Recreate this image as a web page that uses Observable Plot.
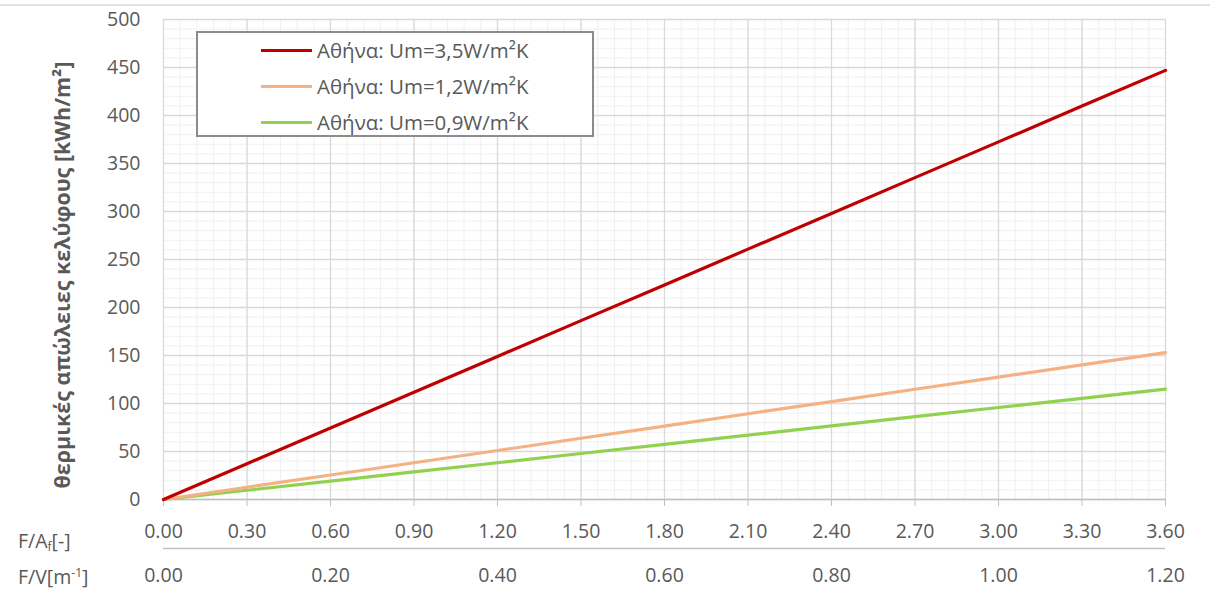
<!DOCTYPE html>
<html><head><meta charset="utf-8">
<script src="https://cdn.jsdelivr.net/npm/d3@7"></script>
<script src="https://cdn.jsdelivr.net/npm/@observablehq/plot@0.6"></script>
<style>
body{margin:0;background:#fff;font-family:"Open Sans",sans-serif;}
#wrap{position:relative;width:1210px;height:592px;overflow:hidden;background:#fff;}
#wrap svg{position:absolute;left:0;top:0;}
.topline{position:absolute;left:0;top:4px;width:1210px;height:0;border-top:2px solid #e3e3e3;}
.legend{position:absolute;left:196px;top:31px;width:394px;height:102px;border:2px solid #8c8c8c;background:#fff;box-sizing:content-box;}
.legend .row{position:absolute;left:63px;height:24px;display:flex;align-items:center;font-size:20.5px;color:#595959;white-space:nowrap;}
.legend .sw{width:51px;height:3px;margin-right:5px;}
.ylab{position:absolute;left:61px;top:275px;transform:translate(-50%,-50%) rotate(-90deg);font-size:21.5px;font-weight:bold;color:#595959;white-space:nowrap;}
.rowlab{position:absolute;left:18px;font-size:19.5px;color:#595959;white-space:nowrap;line-height:1;}
.rowlab sub{font-size:12px;vertical-align:-3px;line-height:0;}
.rowlab sup{font-size:12px;vertical-align:7px;line-height:0;}
</style></head><body><div id="wrap"></div>
<script>
// F/A_f [-] values
const faValues = [0.0, 0.3, 0.6, 0.9, 1.2, 1.5, 1.8, 2.1, 2.4, 2.7, 3.0, 3.3, 3.6];
// Αθήνα series (kWh/m²)
const athensUm35 = [0, 37.3, 74.5, 111.8, 149, 186.3, 223.5, 260.8, 298, 335.3, 372.5, 409.8, 447];
const athensUm12 = [0, 12.8, 25.5, 38.3, 51, 63.8, 76.5, 89.3, 102, 114.8, 127.5, 140.3, 153];
const athensUm09 = [0, 9.6, 19.2, 28.8, 38.3, 47.9, 57.5, 67.1, 76.7, 86.3, 95.8, 105.4, 115];
const seriesNames = ["Αθήνα: Um=3,5W/m²K", "Αθήνα: Um=1,2W/m²K", "Αθήνα: Um=0,9W/m²K"];
const seriesColors = ["#C00000", "#F4B183", "#92D050"];
// axis ticks
const xTicks = [0.0, 0.3, 0.6, 0.9, 1.2, 1.5, 1.8, 2.1, 2.4, 2.7, 3.0, 3.3, 3.6];
const yTicks = [0, 50, 100, 150, 200, 250, 300, 350, 400, 450, 500];
const fvTickPos = [0.0, 0.6, 1.2, 1.8, 2.4, 3.0, 3.6];
const fvTickLabels = ["0.00", "0.20", "0.40", "0.60", "0.80", "1.00", "1.20"];
const yLabel = "θερμικές απώλειες κελύφους  [kWh/m²]";

const seriesValues = [athensUm35, athensUm12, athensUm09];
const rows = [];
seriesValues.forEach((vals, s) => vals.forEach((v, i) => rows.push({x: faValues[i], y: v, s})));

const xMinor = d3.range(0, 3.6001, 0.06);
const yMinor = d3.range(0, 500.001, 10);
const font = "'Open Sans', sans-serif";

const chart = Plot.plot({
  width: 1210, height: 592,
  marginLeft: 163, marginRight: 45, marginTop: 19, marginBottom: 93,
  x: {domain: [0, 3.6]},
  y: {domain: [0, 500]},
  style: {fontFamily: font, fontSize: "19.5px", color: "#595959", background: "transparent", overflow: "visible"},
  marks: [
    Plot.ruleX(xMinor, {stroke: "#f0f0f0", strokeWidth: 1}),
    Plot.ruleY(yMinor, {stroke: "#f0f0f0", strokeWidth: 1}),
    Plot.ruleX(xTicks, {stroke: "#d9d9d9", strokeWidth: 1.3}),
    Plot.ruleY(yTicks, {stroke: "#d9d9d9", strokeWidth: 1.3}),
    Plot.axisX({ticks: xTicks, tickFormat: d => d.toFixed(2), tickSize: 7, tickPadding: 18,
      stroke: "#bfbfbf", fill: "#595959", label: null, fontSize: 19.5}),
    Plot.axisY({ticks: yTicks, tickSize: 0, tickPadding: 23, fill: "#595959", label: null, fontSize: 19.5}),
    Plot.ruleY([0], {stroke: "#bfbfbf", strokeWidth: 1.3}),
    Plot.ruleY([0], {dy: 49, stroke: "#bfbfbf", strokeWidth: 1.5}),
    Plot.text(fvTickPos, {x: d => d, text: (d, i) => fvTickLabels[i], frameAnchor: "bottom", dy: 82,
      fill: "#595959", fontSize: 19.5}),
    ...[2, 1, 0].map(s => Plot.line(rows.filter(r => r.s === s),
      {x: "x", y: "y", stroke: seriesColors[s], strokeWidth: 3.2}))
  ]
});

const wrap = document.getElementById("wrap");
wrap.appendChild(chart);

const topLine = document.createElement("div"); topLine.className = "topline"; wrap.appendChild(topLine);

const lg = document.createElement("div"); lg.className = "legend";
seriesNames.forEach((name, i) => {
  const r = document.createElement("div"); r.className = "row";
  r.style.top = (5 + i * 36) + "px";
  const sw = document.createElement("div"); sw.className = "sw"; sw.style.background = seriesColors[i];
  const t = document.createElement("span"); t.textContent = name;
  r.appendChild(sw); r.appendChild(t); lg.appendChild(r);
});
wrap.appendChild(lg);

const yl = document.createElement("div"); yl.className = "ylab"; yl.textContent = yLabel; wrap.appendChild(yl);

const r1 = document.createElement("div"); r1.className = "rowlab"; r1.style.top = "531px";
r1.innerHTML = "F/A<sub>f</sub>[-]"; wrap.appendChild(r1);
const r2 = document.createElement("div"); r2.className = "rowlab"; r2.style.top = "567px";
r2.innerHTML = "F/V[m<sup>-1</sup>]"; wrap.appendChild(r2);
</script>
</body></html>
